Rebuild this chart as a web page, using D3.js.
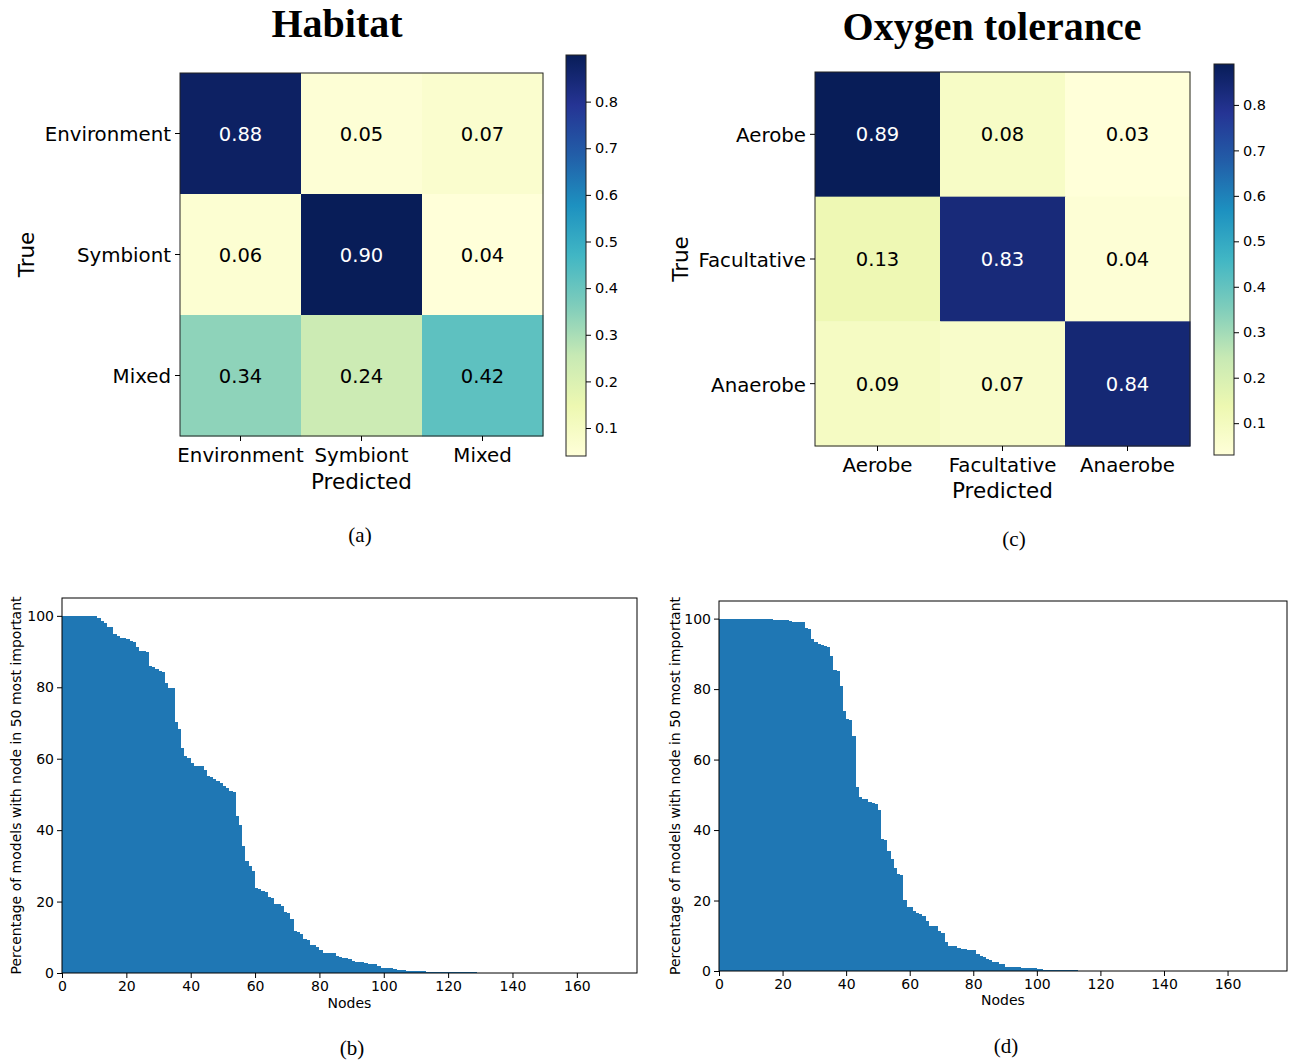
<!DOCTYPE html>
<html>
<head>
<meta charset="utf-8">
<script src="https://cdn.jsdelivr.net/npm/d3@7/dist/d3.min.js"></script>
<style>
  body { margin: 0; background: #fff; }
  svg { display: block; }
  .sans { font-family: "DejaVu Sans", sans-serif; }
  .serif { font-family: "Liberation Serif", "DejaVu Serif", serif; }
</style>
</head>
<body>
<svg id="fig" width="1296" height="1060"></svg>
<script>
// ---------------- DATA ----------------
const habitatClasses = ["Environment", "Symbiont", "Mixed"];
const habitatMatrix = [
  [0.88, 0.05, 0.07],
  [0.06, 0.90, 0.04],
  [0.34, 0.24, 0.42]
];
const oxygenClasses = ["Aerobe", "Facultative", "Anaerobe"];
const oxygenMatrix = [
  [0.89, 0.08, 0.03],
  [0.13, 0.83, 0.04],
  [0.09, 0.07, 0.84]
];
const colorbarTicks = [0.1, 0.2, 0.3, 0.4, 0.5, 0.6, 0.7, 0.8];

// Percentage of models with node in 50 most important (sorted), habitat
const habitatNodeImportance = [
  100, 100, 100, 100, 100, 100, 100, 100, 100, 100,
  100, 99.5, 98.7, 97.9, 97.0, 96.8, 94.8, 94.3, 93.7, 93.7,
  93.4, 93.1, 92.6, 91.2, 90.1, 90.1, 89.9, 86.0, 85.7, 85.0,
  84.6, 84.2, 81.1, 79.7, 79.7, 70.2, 68.2, 62.9, 60.7, 60.1,
  58.7, 57.9, 57.9, 57.9, 56.9, 55.1, 54.8, 54.2, 53.7, 53.1,
  52.5, 51.7, 50.9, 50.6, 43.9, 41.4, 35.7, 31.5, 29.9, 28.7,
  23.7, 23.4, 22.9, 22.6, 21.2, 20.9, 19.2, 19.2, 18.7, 17.0,
  16.7, 15.0, 11.7, 11.4, 10.8, 9.4, 9.2, 7.8, 7.8, 7.2,
  6.4, 5.5, 5.5, 5.5, 5.5, 4.7, 4.4, 4.1, 4.1, 3.8,
  3.5, 3.0, 3.0, 3.0, 2.7, 2.4, 2.4, 2.4, 1.9, 1.3,
  1.3, 1.3, 1.3, 1.0, 0.75, 0.75, 0.75, 0.5, 0.5, 0.5,
  0.5, 0.5, 0.5, 0.2, 0.2, 0.2, 0.2, 0.2, 0.2, 0.2,
  0.2, 0.2, 0.2, 0.2, 0.2, 0.2, 0.2, 0.2, 0.2
];
// Percentage of models with node in 50 most important (sorted), oxygen tolerance
const oxygenNodeImportance = [
  100, 100, 100, 100, 100, 100, 100, 100, 100, 100,
  100, 100, 100, 100, 100, 100, 100, 99.7, 99.7, 99.7,
  99.7, 99.7, 99.2, 98.9, 98.9, 98.9, 98.9, 97.4, 97.1, 94.3,
  93.5, 92.9, 92.6, 92.3, 92.0, 89.5, 85.5, 85.2, 81.0, 73.9,
  71.6, 71.3, 66.8, 52.3, 49.4, 48.9, 48.9, 48.0, 47.7, 47.4,
  45.7, 37.5, 37.2, 34.1, 31.9, 29.1, 27.6, 27.3, 20.2, 18.2,
  18.2, 17.1, 16.5, 16.2, 15.6, 14.2, 12.8, 12.8, 12.8, 11.4,
  10.8, 8.2, 7.1, 7.1, 7.1, 6.5, 6.2, 6.2, 6.0, 6.0,
  6.0, 4.8, 4.2, 4.0, 3.4, 3.0, 2.5, 2.5, 2.0, 2.0,
  1.1, 1.1, 1.1, 1.1, 1.1, 0.85, 0.85, 0.85, 0.85, 0.85,
  0.57, 0.57, 0.28, 0.28, 0.28, 0.28, 0.28, 0.28, 0.28, 0.28,
  0.28, 0.28, 0.28
];
const barXTicks = [0, 20, 40, 60, 80, 100, 120, 140, 160];
const barYTicks = [0, 20, 40, 60, 80, 100];
const barXMax = 178.7;   // axis extent (nodes)
const barYMax = 105;

// ---------------- DRAW ----------------
const svg = d3.select("#fig");
const cmapColors = d3.schemeYlGnBu[9];

function heatmap(opts) {
  const { matrix, classes, title, caption, x0, x1, y0, y1, cb, ylabelX, titleX, titleY, captionX, captionY,
          predY, gid } = opts;
  const flat = matrix.flat();
  const vmin = d3.min(flat), vmax = d3.max(flat);
  const color = d3.scaleLinear()
    .domain(d3.range(9).map(i => vmin + (vmax - vmin) * i / 8))
    .range(cmapColors).interpolate(d3.interpolateRgb);

  const x = d3.scaleBand().domain(d3.range(classes.length)).range([x0, x1]);
  const y = d3.scaleBand().domain(d3.range(classes.length)).range([y0, y1]);
  const g = svg.append("g");

  matrix.forEach((row, i) => row.forEach((v, j) => {
    g.append("rect").attr("x", x(j)).attr("y", y(i))
      .attr("width", x.bandwidth() + 0.5).attr("height", y.bandwidth() + 0.5)
      .attr("fill", color(v));
    g.append("text").attr("class", "sans")
      .attr("x", x(j) + x.bandwidth() / 2).attr("y", y(i) + y.bandwidth() / 2)
      .attr("dy", "0.36em").attr("text-anchor", "middle")
      .attr("font-size", "19.5px")
      .attr("fill", v > (vmin + vmax) / 2 ? "#ffffff" : "#000000")
      .text(v.toFixed(2));
  }));
  g.append("rect").attr("x", x0).attr("y", y0).attr("width", x1 - x0).attr("height", y1 - y0)
    .attr("fill", "none").attr("stroke", "#222").attr("stroke-width", 1);

  // axes
  const xAxis = d3.axisBottom(x).tickFormat(i => classes[i]).tickSize(5).tickPadding(7);
  const gx = g.append("g").attr("transform", `translate(0,${y1})`).call(xAxis);
  gx.select(".domain").remove();
  gx.selectAll("text").attr("class", "sans").attr("font-size", "19.8px").attr("fill", "#000");
  gx.selectAll("line").attr("stroke", "#000");
  const yAxis = d3.axisLeft(y).tickFormat(i => classes[i]).tickSize(5).tickPadding(4);
  const gy = g.append("g").attr("transform", `translate(${x0},0)`).call(yAxis);
  gy.select(".domain").remove();
  gy.selectAll("text").attr("class", "sans").attr("font-size", "19.8px").attr("fill", "#000")
    .attr("dy", "0.4em");
  gy.selectAll("line").attr("stroke", "#000");

  g.append("text").attr("class", "sans").attr("x", (x0 + x1) / 2).attr("y", predY)
    .attr("text-anchor", "middle").attr("font-size", "21.5px").text("Predicted");
  g.append("text").attr("class", "sans")
    .attr("transform", `translate(${ylabelX},${(y0 + y1) / 2}) rotate(-90)`)
    .attr("text-anchor", "middle").attr("font-size", "21.5px").text("True");

  g.append("text").attr("class", "serif").attr("x", titleX).attr("y", titleY)
    .attr("text-anchor", "middle").attr("font-size", "40px").attr("font-weight", "bold").text(title);
  g.append("text").attr("class", "serif").attr("x", captionX).attr("y", captionY)
    .attr("text-anchor", "middle").attr("font-size", "21px").text(caption);

  // colorbar
  const defs = svg.append("defs");
  const grad = defs.append("linearGradient").attr("id", gid)
    .attr("x1", 0).attr("y1", 1).attr("x2", 0).attr("y2", 0);
  cmapColors.forEach((c, i) => grad.append("stop").attr("offset", i / 8).attr("stop-color", c));
  const cbScale = d3.scaleLinear().domain([vmin, vmax]).range([cb.y1, cb.y0]);
  g.append("rect").attr("x", cb.x0).attr("y", cb.y0).attr("width", cb.x1 - cb.x0).attr("height", cb.y1 - cb.y0)
    .attr("fill", `url(#${gid})`).attr("stroke", "#222").attr("stroke-width", 1);
  const cbAxis = d3.axisRight(cbScale).tickValues(colorbarTicks).tickFormat(d3.format(".1f"))
    .tickSize(5).tickPadding(4);
  const gc = g.append("g").attr("transform", `translate(${cb.x1},0)`).call(cbAxis);
  gc.select(".domain").remove();
  gc.selectAll("text").attr("class", "sans").attr("font-size", "14.5px").attr("fill", "#000");
  gc.selectAll("line").attr("stroke", "#000");
}

heatmap({
  matrix: habitatMatrix, classes: habitatClasses, title: "Habitat", caption: "(a)",
  x0: 180, x1: 543, y0: 73, y1: 436,
  cb: { x0: 566, x1: 586, y0: 55, y1: 456 },
  ylabelX: 34, titleX: 337, titleY: 37, captionX: 360, captionY: 542,
  predY: 489, gid: "cbA"
});
heatmap({
  matrix: oxygenMatrix, classes: oxygenClasses, title: "Oxygen tolerance", caption: "(c)",
  x0: 815, x1: 1190, y0: 72, y1: 446,
  cb: { x0: 1214, x1: 1234, y0: 64, y1: 455 },
  ylabelX: 688, titleX: 992, titleY: 40, captionX: 1014, captionY: 546,
  predY: 498, gid: "cbC"
});

function barChart(opts) {
  const { values, x0, x1, y0, y1, ylabelX, nodesY, caption, captionX, captionY } = opts;
  const x = d3.scaleLinear().domain([0, barXMax]).range([x0, x1]);
  const y = d3.scaleLinear().domain([0, barYMax]).range([y1, y0]);
  const g = svg.append("g");
  g.append("g").attr("shape-rendering", "crispEdges")
    .selectAll("rect.bar").data(values).enter().append("rect")
    .attr("class", "bar")
    .attr("x", (d, i) => x(i)).attr("width", (d, i) => x(i + 1) - x(i))
    .attr("y", d => y(d)).attr("height", d => y(0) - y(d))
    .attr("fill", "#1f77b4");
  g.append("rect").attr("x", x0).attr("y", y0).attr("width", x1 - x0).attr("height", y1 - y0)
    .attr("fill", "none").attr("stroke", "#000").attr("stroke-width", 1);
  const gx = g.append("g").attr("transform", `translate(0,${y1})`)
    .call(d3.axisBottom(x).tickValues(barXTicks).tickSize(5).tickPadding(3));
  gx.select(".domain").remove();
  gx.selectAll("text").attr("class", "sans").attr("font-size", "14px").attr("fill", "#000");
  const gy = g.append("g").attr("transform", `translate(${x0},0)`)
    .call(d3.axisLeft(y).tickValues(barYTicks).tickSize(5).tickPadding(3));
  gy.select(".domain").remove();
  gy.selectAll("text").attr("class", "sans").attr("font-size", "14px").attr("fill", "#000");
  g.append("text").attr("class", "sans").attr("x", (x0 + x1) / 2).attr("y", nodesY)
    .attr("text-anchor", "middle").attr("font-size", "14px").text("Nodes");
  g.append("text").attr("class", "sans")
    .attr("transform", `translate(${ylabelX},${(y0 + y1) / 2}) rotate(-90)`)
    .attr("text-anchor", "middle").attr("font-size", "14px")
    .text("Percentage of models with node in 50 most important");
  g.append("text").attr("class", "serif").attr("x", captionX).attr("y", captionY)
    .attr("text-anchor", "middle").attr("font-size", "21px").text(caption);
}

barChart({
  values: habitatNodeImportance, x0: 62, x1: 637, y0: 598, y1: 973,
  ylabelX: 21, nodesY: 1008, caption: "(b)", captionX: 352, captionY: 1055
});
barChart({
  values: oxygenNodeImportance, x0: 719, x1: 1287, y0: 601, y1: 971,
  ylabelX: 680, nodesY: 1005, caption: "(d)", captionX: 1006, captionY: 1053
});
</script>
</body>
</html>
